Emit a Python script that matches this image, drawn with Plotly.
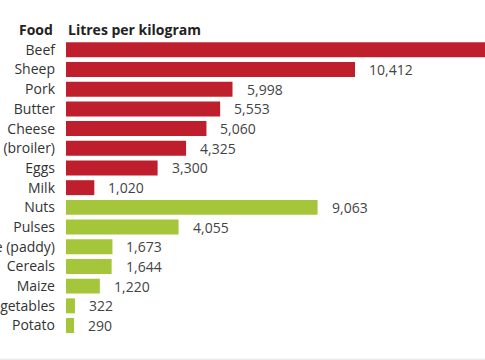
import plotly.graph_objects as go

foods = ["Beef", "Sheep", "Pork", "Butter", "Cheese", "Chicken (broiler)", "Eggs", "Milk",
         "Nuts", "Pulses", "Rice (paddy)", "Cereals", "Maize", "Vegetables", "Potato"]
litres = [15415, 10412, 5998, 5553, 5060, 4325, 3300, 1020,
          9063, 4055, 1673, 1644, 1220, 322, 290]
groups = ["animal"] * 8 + ["plant"] * 7
labels = [f"{v:,}" for v in litres]

RED = "#bf1f2c"
GREEN = "#a5c63b"
colors = [RED if g == "animal" else GREEN for g in groups]

FONT = "Open Sans"

fig = go.Figure()
fig.add_trace(go.Bar(
    x=litres, y=foods, orientation="h",
    marker=dict(color=colors, line=dict(width=0)),
    width=0.76, hoverinfo="skip",
))

for f, v, t in zip(foods, litres, labels):
    if v > 14000:
        continue
    fig.add_annotation(x=v, y=f, text=t, showarrow=False, xanchor="left",
                       xshift=12, font=dict(family=FONT, size=14, color="#444444"))

fig.add_annotation(xref="paper", yref="paper", x=0, y=1.034, xshift=-11,
                   text="<b>Food</b>", showarrow=False, xanchor="right", yanchor="middle",
                   font=dict(family=FONT, size=14, color="#222222"))
fig.add_annotation(xref="paper", yref="paper", x=0, y=1.034, xshift=0,
                   text="<b>Litres per kilogram</b>", showarrow=False, xanchor="left", yanchor="middle",
                   font=dict(family=FONT, size=14, color="#222222"))

fig.add_shape(type="line", xref="paper", yref="paper", x0=-0.2, x1=1.2,
              y0=-0.075, y1=-0.075, line=dict(color="#e6e6e6", width=1))

fig.update_layout(
    width=485, height=360,
    margin=dict(l=66, r=0, t=40, b=23),
    paper_bgcolor="white", plot_bgcolor="white",
    showlegend=False,
    xaxis=dict(range=[0, 15094], visible=False, fixedrange=True),
    yaxis=dict(autorange="reversed", showgrid=False, zeroline=False, showline=False,
               ticks="", ticklabelstandoff=10,
               tickfont=dict(family=FONT, size=14, color="#333333"), automargin=False),
)

fig.write_html("out.html")
